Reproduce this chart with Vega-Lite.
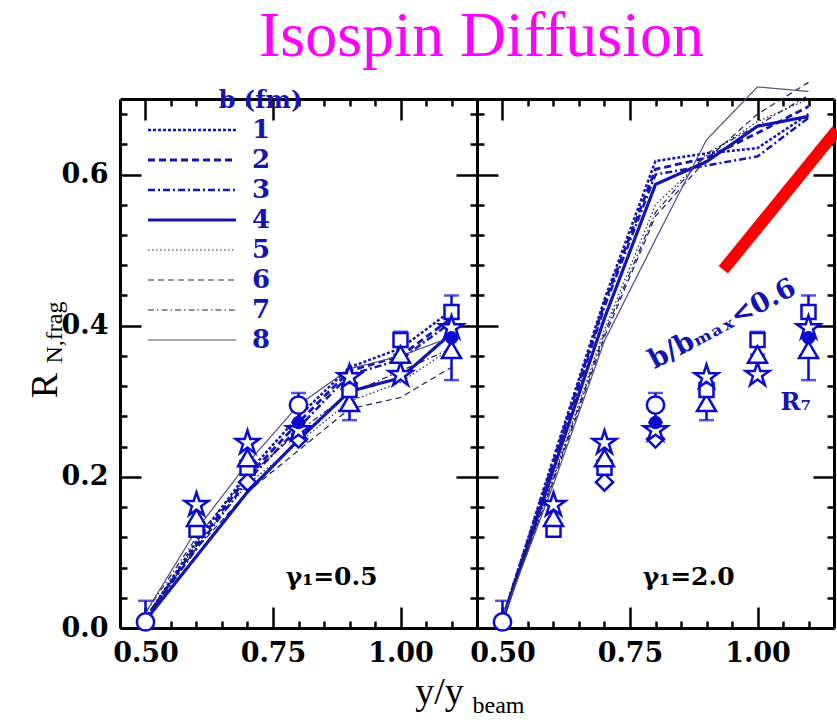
{
  "$schema": "https://vega.github.io/schema/vega-lite/v6.json",
  "autosize": {"type": "pad"},
  "padding": {"left": 26, "top": 4, "right": 0, "bottom": 0},
  "background": "white",
  "title": {"text": "Isospin Diffusion", "font": "Liberation Serif", "fontSize": 64, "fontWeight": "normal", "color": "#ff00ff", "anchor": "middle", "frame": "bounds", "baseline": "alphabetic", "offset": -40, "dx": 47},
  "config": {
    "view": {"stroke": null},
    "axis": {"domainColor": "black", "domainWidth": 3, "tickColor": "black", "tickWidth": 2.5, "grid": false, "labelFont": "DejaVu Serif", "labelFontWeight": "bold", "labelFontSize": 27, "labelColor": "black", "titleFont": "Liberation Serif", "titleFontWeight": "normal", "titleColor": "black", "labelFlush": false, "labelOverlap": false}
  },
  "datasets": {
    "sim": [
      {"g": "0.5", "b": 1, "x": 0.5, "y": 0.012}, {"g": "0.5", "b": 1, "x": 0.6, "y": 0.115}, {"g": "0.5", "b": 1, "x": 0.7, "y": 0.205}, {"g": "0.5", "b": 1, "x": 0.8, "y": 0.28}, {"g": "0.5", "b": 1, "x": 0.9, "y": 0.345}, {"g": "0.5", "b": 1, "x": 1.0, "y": 0.37}, {"g": "0.5", "b": 1, "x": 1.1, "y": 0.42},
      {"g": "0.5", "b": 2, "x": 0.5, "y": 0.012}, {"g": "0.5", "b": 2, "x": 0.6, "y": 0.11}, {"g": "0.5", "b": 2, "x": 0.7, "y": 0.2}, {"g": "0.5", "b": 2, "x": 0.8, "y": 0.272}, {"g": "0.5", "b": 2, "x": 0.9, "y": 0.34}, {"g": "0.5", "b": 2, "x": 1.0, "y": 0.36}, {"g": "0.5", "b": 2, "x": 1.1, "y": 0.41},
      {"g": "0.5", "b": 3, "x": 0.5, "y": 0.012}, {"g": "0.5", "b": 3, "x": 0.6, "y": 0.105}, {"g": "0.5", "b": 3, "x": 0.7, "y": 0.195}, {"g": "0.5", "b": 3, "x": 0.8, "y": 0.265}, {"g": "0.5", "b": 3, "x": 0.9, "y": 0.335}, {"g": "0.5", "b": 3, "x": 1.0, "y": 0.355}, {"g": "0.5", "b": 3, "x": 1.1, "y": 0.405},
      {"g": "0.5", "b": 4, "x": 0.5, "y": 0.01}, {"g": "0.5", "b": 4, "x": 0.6, "y": 0.095}, {"g": "0.5", "b": 4, "x": 0.7, "y": 0.18}, {"g": "0.5", "b": 4, "x": 0.8, "y": 0.249}, {"g": "0.5", "b": 4, "x": 0.9, "y": 0.313}, {"g": "0.5", "b": 4, "x": 1.0, "y": 0.331}, {"g": "0.5", "b": 4, "x": 1.1, "y": 0.39},
      {"g": "0.5", "b": 5, "x": 0.5, "y": 0.015}, {"g": "0.5", "b": 5, "x": 0.6, "y": 0.11}, {"g": "0.5", "b": 5, "x": 0.7, "y": 0.19}, {"g": "0.5", "b": 5, "x": 0.8, "y": 0.245}, {"g": "0.5", "b": 5, "x": 0.9, "y": 0.3}, {"g": "0.5", "b": 5, "x": 1.0, "y": 0.325}, {"g": "0.5", "b": 5, "x": 1.1, "y": 0.37},
      {"g": "0.5", "b": 6, "x": 0.5, "y": 0.015}, {"g": "0.5", "b": 6, "x": 0.6, "y": 0.105}, {"g": "0.5", "b": 6, "x": 0.7, "y": 0.18}, {"g": "0.5", "b": 6, "x": 0.8, "y": 0.235}, {"g": "0.5", "b": 6, "x": 0.9, "y": 0.29}, {"g": "0.5", "b": 6, "x": 1.0, "y": 0.305}, {"g": "0.5", "b": 6, "x": 1.1, "y": 0.345},
      {"g": "0.5", "b": 7, "x": 0.5, "y": 0.02}, {"g": "0.5", "b": 7, "x": 0.6, "y": 0.12}, {"g": "0.5", "b": 7, "x": 0.7, "y": 0.2}, {"g": "0.5", "b": 7, "x": 0.8, "y": 0.26}, {"g": "0.5", "b": 7, "x": 0.9, "y": 0.31}, {"g": "0.5", "b": 7, "x": 1.0, "y": 0.34}, {"g": "0.5", "b": 7, "x": 1.1, "y": 0.37},
      {"g": "0.5", "b": 8, "x": 0.5, "y": 0.02}, {"g": "0.5", "b": 8, "x": 0.6, "y": 0.13}, {"g": "0.5", "b": 8, "x": 0.7, "y": 0.218}, {"g": "0.5", "b": 8, "x": 0.8, "y": 0.295}, {"g": "0.5", "b": 8, "x": 0.9, "y": 0.343}, {"g": "0.5", "b": 8, "x": 1.0, "y": 0.36}, {"g": "0.5", "b": 8, "x": 1.1, "y": 0.385},
      {"g": "2.0", "b": 1, "x": 0.5, "y": 0.012}, {"g": "2.0", "b": 1, "x": 0.6, "y": 0.225}, {"g": "2.0", "b": 1, "x": 0.7, "y": 0.435}, {"g": "2.0", "b": 1, "x": 0.8, "y": 0.618}, {"g": "2.0", "b": 1, "x": 0.9, "y": 0.628}, {"g": "2.0", "b": 1, "x": 1.0, "y": 0.635}, {"g": "2.0", "b": 1, "x": 1.1, "y": 0.68},
      {"g": "2.0", "b": 2, "x": 0.5, "y": 0.012}, {"g": "2.0", "b": 2, "x": 0.6, "y": 0.22}, {"g": "2.0", "b": 2, "x": 0.7, "y": 0.43}, {"g": "2.0", "b": 2, "x": 0.8, "y": 0.607}, {"g": "2.0", "b": 2, "x": 0.9, "y": 0.622}, {"g": "2.0", "b": 2, "x": 1.0, "y": 0.655}, {"g": "2.0", "b": 2, "x": 1.1, "y": 0.69},
      {"g": "2.0", "b": 3, "x": 0.5, "y": 0.012}, {"g": "2.0", "b": 3, "x": 0.6, "y": 0.215}, {"g": "2.0", "b": 3, "x": 0.7, "y": 0.425}, {"g": "2.0", "b": 3, "x": 0.8, "y": 0.6}, {"g": "2.0", "b": 3, "x": 0.9, "y": 0.612}, {"g": "2.0", "b": 3, "x": 1.0, "y": 0.624}, {"g": "2.0", "b": 3, "x": 1.1, "y": 0.675},
      {"g": "2.0", "b": 4, "x": 0.5, "y": 0.01}, {"g": "2.0", "b": 4, "x": 0.6, "y": 0.21}, {"g": "2.0", "b": 4, "x": 0.7, "y": 0.41}, {"g": "2.0", "b": 4, "x": 0.8, "y": 0.587}, {"g": "2.0", "b": 4, "x": 0.9, "y": 0.617}, {"g": "2.0", "b": 4, "x": 1.0, "y": 0.664}, {"g": "2.0", "b": 4, "x": 1.1, "y": 0.677},
      {"g": "2.0", "b": 5, "x": 0.5, "y": 0.012}, {"g": "2.0", "b": 5, "x": 0.6, "y": 0.2}, {"g": "2.0", "b": 5, "x": 0.7, "y": 0.395}, {"g": "2.0", "b": 5, "x": 0.8, "y": 0.56}, {"g": "2.0", "b": 5, "x": 0.9, "y": 0.625}, {"g": "2.0", "b": 5, "x": 1.0, "y": 0.67}, {"g": "2.0", "b": 5, "x": 1.1, "y": 0.7},
      {"g": "2.0", "b": 6, "x": 0.5, "y": 0.012}, {"g": "2.0", "b": 6, "x": 0.6, "y": 0.195}, {"g": "2.0", "b": 6, "x": 0.7, "y": 0.385}, {"g": "2.0", "b": 6, "x": 0.8, "y": 0.545}, {"g": "2.0", "b": 6, "x": 0.9, "y": 0.62}, {"g": "2.0", "b": 6, "x": 1.0, "y": 0.68}, {"g": "2.0", "b": 6, "x": 1.1, "y": 0.722},
      {"g": "2.0", "b": 7, "x": 0.5, "y": 0.012}, {"g": "2.0", "b": 7, "x": 0.6, "y": 0.198}, {"g": "2.0", "b": 7, "x": 0.7, "y": 0.39}, {"g": "2.0", "b": 7, "x": 0.8, "y": 0.55}, {"g": "2.0", "b": 7, "x": 0.9, "y": 0.628}, {"g": "2.0", "b": 7, "x": 1.0, "y": 0.665}, {"g": "2.0", "b": 7, "x": 1.1, "y": 0.705},
      {"g": "2.0", "b": 8, "x": 0.5, "y": 0.012}, {"g": "2.0", "b": 8, "x": 0.6, "y": 0.19}, {"g": "2.0", "b": 8, "x": 0.7, "y": 0.38}, {"g": "2.0", "b": 8, "x": 0.8, "y": 0.514}, {"g": "2.0", "b": 8, "x": 0.9, "y": 0.646}, {"g": "2.0", "b": 8, "x": 1.0, "y": 0.716}, {"g": "2.0", "b": 8, "x": 1.1, "y": 0.71}
    ],
    "exp": [
      {"x": 0.5, "m": "circle", "y": 0.008},
      {"x": 0.6, "m": "square", "y": 0.13}, {"x": 0.6, "m": "triangle", "y": 0.146}, {"x": 0.6, "m": "star", "y": 0.163},
      {"x": 0.7, "m": "diamond", "y": 0.193}, {"x": 0.7, "m": "square", "y": 0.212}, {"x": 0.7, "m": "triangle", "y": 0.225}, {"x": 0.7, "m": "star", "y": 0.245},
      {"x": 0.8, "m": "diamond", "y": 0.25}, {"x": 0.8, "m": "star", "y": 0.262}, {"x": 0.8, "m": "circle", "y": 0.295}, {"x": 0.8, "m": "dot", "y": 0.272},
      {"x": 0.9, "m": "triangle", "y": 0.298}, {"x": 0.9, "m": "square", "y": 0.315}, {"x": 0.9, "m": "star", "y": 0.332},
      {"x": 1.0, "m": "star", "y": 0.335}, {"x": 1.0, "m": "square", "y": 0.381}, {"x": 1.0, "m": "triangle", "y": 0.362},
      {"x": 1.1, "m": "triangle", "y": 0.368}, {"x": 1.1, "m": "square", "y": 0.418}, {"x": 1.1, "m": "star", "y": 0.397}, {"x": 1.1, "m": "dot", "y": 0.384}
    ],
    "err": [
      {"x": 0.5, "lo": 0.0, "hi": 0.036},
      {"x": 0.8, "lo": 0.272, "hi": 0.311},
      {"x": 0.9, "lo": 0.275, "hi": 0.332},
      {"x": 1.0, "lo": 0.362, "hi": 0.392},
      {"x": 1.1, "lo": 0.328, "hi": 0.44}
    ],
    "notes": [
      {"g": "0.5", "k": "gamma", "t": "γ₁=0.5"},
      {"g": "2.0", "k": "gamma", "t": "γ₁=2.0"},
      {"g": "0.5", "k": "bfm", "t": "b (fm)"},
      {"g": "2.0", "k": "ratio", "t": "b/bₘₐₓ<0.6"},
      {"g": "2.0", "k": "r7", "t": "R₇"}
    ]
  },
  "spacing": 0,
  "bounds": "flush",
  "hconcat": [
    {
      "width": 357,
      "height": 529,
      "resolve": {"axis": {"x": "independent", "y": "independent"}},
      "layer": [
        {
          "data": {"name": "sim"},
          "transform": [{"filter": "datum.g == '0.5'"}],
          "mark": {"type": "line"},
          "encoding": {
            "x": {"field": "x", "type": "quantitative", "scale": {"domain": [0.45, 1.15], "nice": false, "zero": false},
                  "axis": {"orient": "bottom", "values": [0.5, 0.75, 1.0], "format": ".2f", "tickSize": -21, "labelPadding": 33, "title": "y/y", "titleFontSize": 38, "titleX": 319, "titleY": 75, "titleBaseline": "alphabetic", "titleAlign": "center"}},
            "y": {"field": "y", "type": "quantitative", "scale": {"domain": [0, 0.7], "nice": false, "zero": false},
                  "axis": {"orient": "left", "values": [0, 0.2, 0.4, 0.6], "format": ".1f", "tickSize": -21, "labelPadding": 33, "title": "R", "titleFontSize": 38, "titleAngle": 270, "titleX": -64, "titleY": 286, "titleAlign": "center", "titleBaseline": "alphabetic"}},
            "color": {"field": "b", "type": "ordinal", "scale": {"domain": [1, 2, 3, 4, 5, 6, 7, 8], "range": ["#1414b4", "#1414b4", "#1414b4", "#1414b4", "#1c1c60", "#1c1c60", "#1c1c60", "#4c4c88"]},
                      "legend": {"orient": "none", "legendX": 25, "legendY": 18, "title": null, "symbolType": "M-4.4,0H4.4", "symbolSize": 400, "symbolOffset": 34, "labelFont": "DejaVu Serif", "labelFontWeight": "bold", "labelFontSize": 26, "labelColor": "#1414b4", "labelOffset": 47, "rowPadding": 4, "padding": 0}},
            "strokeDash": {"field": "b", "type": "ordinal", "scale": {"domain": [1, 2, 3, 4, 5, 6, 7, 8], "range": [[3, 2], [7, 4], [7, 3, 2, 3], [1, 0], [1.5, 2.5], [6, 4], [6, 3, 1.5, 3], [1, 0]]},
                      "legend": {"orient": "none", "legendX": 25, "legendY": 18, "title": null, "symbolType": "M-4.4,0H4.4", "symbolSize": 400, "symbolOffset": 34, "labelFont": "DejaVu Serif", "labelFontWeight": "bold", "labelFontSize": 26, "labelColor": "#1414b4", "labelOffset": 47, "rowPadding": 4, "padding": 0}},
            "strokeWidth": {"field": "b", "type": "ordinal", "scale": {"type": "ordinal", "domain": [1, 2, 3, 4, 5, 6, 7, 8], "range": [2.5, 2.8, 2.5, 3.2, 1.2, 1.2, 1.2, 1.2]},
                      "legend": {"orient": "none", "legendX": 25, "legendY": 18, "title": null, "symbolType": "M-4.4,0H4.4", "symbolSize": 400, "symbolOffset": 34, "labelFont": "DejaVu Serif", "labelFontWeight": "bold", "labelFontSize": 26, "labelColor": "#1414b4", "labelOffset": 47, "rowPadding": 4, "padding": 0}}
          }
        },
        {
          "data": {"name": "err"},
          "mark": {"type": "rule", "color": "#0b0bd0", "strokeWidth": 2.5},
          "encoding": {
            "x": {"field": "x", "type": "quantitative", "scale": {"domain": [0.45, 1.15], "nice": false, "zero": false},
                  "axis": {"orient": "top", "values": [0.5, 0.75, 1.0], "tickSize": -21, "labels": false, "title": null}},
            "y": {"field": "lo", "type": "quantitative", "scale": {"domain": [0, 0.7], "nice": false, "zero": false},
                  "axis": {"orient": "right", "values": [0, 0.2, 0.4, 0.6], "tickSize": -21, "labels": false, "title": null}},
            "y2": {"field": "hi"}
          }
        },
        {
          "data": {"name": "err"},
          "mark": {"type": "tick", "orient": "horizontal", "size": 15, "thickness": 2.5, "color": "#0b0bd0"},
          "encoding": {
            "x": {"field": "x", "type": "quantitative", "scale": {"domain": [0.45, 1.15], "nice": false, "zero": false},
                  "axis": {"orient": "bottom", "values": [0.55, 0.6, 0.65, 0.7, 0.8, 0.85, 0.9, 0.95, 1.05, 1.1], "tickSize": -7, "labels": false, "domain": false, "title": "beam", "titleFontSize": 24, "titleX": 378, "titleY": 84, "titleBaseline": "alphabetic", "titleAlign": "center"}},
            "y": {"field": "hi", "type": "quantitative", "scale": {"domain": [0, 0.7], "nice": false, "zero": false},
                  "axis": {"orient": "left", "values": [0.04, 0.08, 0.12, 0.16, 0.24, 0.28, 0.32, 0.36, 0.44, 0.48, 0.52, 0.56, 0.64, 0.68], "tickSize": -7, "labels": false, "domain": false, "title": "N,frag", "titleFontSize": 24, "titleAngle": 270, "titleX": -59, "titleY": 233, "titleAlign": "center", "titleBaseline": "alphabetic"}}
          }
        },
        {
          "data": {"name": "err"},
          "transform": [{"filter": "datum.lo > 0"}],
          "mark": {"type": "tick", "orient": "horizontal", "size": 15, "thickness": 2.5, "color": "#0b0bd0"},
          "encoding": {
            "x": {"field": "x", "type": "quantitative", "scale": {"domain": [0.45, 1.15], "nice": false, "zero": false},
                  "axis": {"orient": "top", "values": [0.55, 0.6, 0.65, 0.7, 0.8, 0.85, 0.9, 0.95, 1.05, 1.1], "tickSize": -7, "labels": false, "domain": false, "title": null}},
            "y": {"field": "lo", "type": "quantitative", "scale": {"domain": [0, 0.7], "nice": false, "zero": false},
                  "axis": {"orient": "right", "values": [0.04, 0.08, 0.12, 0.16, 0.24, 0.28, 0.32, 0.36, 0.44, 0.48, 0.52, 0.56, 0.64, 0.68], "tickSize": -7, "labels": false, "domain": false, "title": null}}
          }
        },
        {
          "data": {"name": "exp"},
          "mark": {"type": "point", "filled": true, "stroke": "#0b0bd0", "strokeWidth": 2.5, "opacity": 1},
          "encoding": {
            "x": {"field": "x", "type": "quantitative", "axis": null},
            "y": {"field": "y", "type": "quantitative", "axis": null},
            "shape": {"field": "m", "type": "nominal", "legend": null, "scale": {"domain": ["star", "triangle", "square", "diamond", "circle", "dot"], "range": ["M0,-1L0.2245,-0.309L0.9511,-0.309L0.3633,0.118L0.5878,0.809L0,0.382L-0.5878,0.809L-0.3633,0.118L-0.9511,-0.309L-0.2245,-0.309Z", "triangle-up", "square", "diamond", "circle", "circle"]}},
            "fill": {"field": "m", "type": "nominal", "legend": null, "scale": {"domain": ["star", "triangle", "square", "diamond", "circle", "dot"], "range": ["white", "white", "white", "white", "white", "#0b0bd0"]}},
            "size": {"field": "m", "type": "nominal", "legend": null, "scale": {"type": "ordinal", "domain": ["star", "triangle", "square", "diamond", "circle", "dot"], "range": [620, 360, 196, 289, 300, 121]}}
          }
        },
        {
          "data": {"name": "notes"},
          "transform": [{"filter": "datum.k == 'gamma' && datum.g == '0.5'"}],
          "mark": {"type": "text", "font": "DejaVu Serif", "fontSize": 25, "fontWeight": "bold", "color": "black"},
          "encoding": {
            "x": {"datum": 0.865, "type": "quantitative", "axis": null},
            "y": {"datum": 0.068, "type": "quantitative", "axis": null},
            "text": {"field": "t"}
          }
        },
        {
          "data": {"name": "notes"},
          "transform": [{"filter": "datum.k == 'bfm'"}],
          "mark": {"type": "text", "font": "DejaVu Serif", "fontSize": 24, "fontWeight": "bold", "color": "#1414b4"},
          "encoding": {
            "x": {"datum": 0.7255, "type": "quantitative", "axis": null},
            "y": {"datum": 0.697, "type": "quantitative", "axis": null},
            "text": {"field": "t"}
          }
        }
      ]
    },
    {
      "width": 357,
      "height": 529,
      "resolve": {"axis": {"x": "independent", "y": "independent"}},
      "layer": [
        {
          "data": {"name": "sim"},
          "transform": [{"filter": "datum.g == '2.0'"}],
          "mark": {"type": "line"},
          "encoding": {
            "x": {"field": "x", "type": "quantitative", "scale": {"domain": [0.45, 1.15], "nice": false, "zero": false},
                  "axis": {"orient": "bottom", "values": [0.5, 0.75, 1.0], "format": ".2f", "tickSize": -21, "labelPadding": 33, "title": null}},
            "y": {"field": "y", "type": "quantitative", "scale": {"domain": [0, 0.7], "nice": false, "zero": false},
                  "axis": {"orient": "left", "values": [0, 0.2, 0.4, 0.6], "tickSize": -21, "labels": false, "title": null}},
            "color": {"field": "b", "type": "ordinal", "legend": null, "scale": {"domain": [1, 2, 3, 4, 5, 6, 7, 8], "range": ["#1414b4", "#1414b4", "#1414b4", "#1414b4", "#1c1c60", "#1c1c60", "#1c1c60", "#4c4c88"]}},
            "strokeDash": {"field": "b", "type": "ordinal", "legend": null, "scale": {"domain": [1, 2, 3, 4, 5, 6, 7, 8], "range": [[3, 2], [7, 4], [7, 3, 2, 3], [1, 0], [1.5, 2.5], [6, 4], [6, 3, 1.5, 3], [1, 0]]}},
            "strokeWidth": {"field": "b", "type": "ordinal", "legend": null, "scale": {"type": "ordinal", "domain": [1, 2, 3, 4, 5, 6, 7, 8], "range": [2.5, 2.8, 2.5, 3.2, 1.2, 1.2, 1.2, 1.2]}}
          }
        },
        {
          "data": {"name": "err"},
          "mark": {"type": "rule", "color": "#0b0bd0", "strokeWidth": 2.5},
          "encoding": {
            "x": {"field": "x", "type": "quantitative", "scale": {"domain": [0.45, 1.15], "nice": false, "zero": false},
                  "axis": {"orient": "top", "values": [0.5, 0.75, 1.0], "tickSize": -21, "labels": false, "title": null}},
            "y": {"field": "lo", "type": "quantitative", "scale": {"domain": [0, 0.7], "nice": false, "zero": false},
                  "axis": {"orient": "right", "values": [0, 0.2, 0.4, 0.6], "tickSize": -21, "labels": false, "title": null}},
            "y2": {"field": "hi"}
          }
        },
        {
          "data": {"name": "err"},
          "mark": {"type": "tick", "orient": "horizontal", "size": 15, "thickness": 2.5, "color": "#0b0bd0"},
          "encoding": {
            "x": {"field": "x", "type": "quantitative", "scale": {"domain": [0.45, 1.15], "nice": false, "zero": false},
                  "axis": {"orient": "bottom", "values": [0.55, 0.6, 0.65, 0.7, 0.8, 0.85, 0.9, 0.95, 1.05, 1.1], "tickSize": -7, "labels": false, "domain": false, "title": null}},
            "y": {"field": "hi", "type": "quantitative", "scale": {"domain": [0, 0.7], "nice": false, "zero": false},
                  "axis": {"orient": "left", "values": [0.04, 0.08, 0.12, 0.16, 0.24, 0.28, 0.32, 0.36, 0.44, 0.48, 0.52, 0.56, 0.64, 0.68], "tickSize": -7, "labels": false, "domain": false, "title": null}}
          }
        },
        {
          "data": {"name": "err"},
          "transform": [{"filter": "datum.lo > 0"}],
          "mark": {"type": "tick", "orient": "horizontal", "size": 15, "thickness": 2.5, "color": "#0b0bd0"},
          "encoding": {
            "x": {"field": "x", "type": "quantitative", "scale": {"domain": [0.45, 1.15], "nice": false, "zero": false},
                  "axis": {"orient": "top", "values": [0.55, 0.6, 0.65, 0.7, 0.8, 0.85, 0.9, 0.95, 1.05, 1.1], "tickSize": -7, "labels": false, "domain": false, "title": null}},
            "y": {"field": "lo", "type": "quantitative", "scale": {"domain": [0, 0.7], "nice": false, "zero": false},
                  "axis": {"orient": "right", "values": [0.04, 0.08, 0.12, 0.16, 0.24, 0.28, 0.32, 0.36, 0.44, 0.48, 0.52, 0.56, 0.64, 0.68], "tickSize": -7, "labels": false, "domain": false, "title": null}}
          }
        },
        {
          "data": {"name": "exp"},
          "mark": {"type": "point", "filled": true, "stroke": "#0b0bd0", "strokeWidth": 2.5, "opacity": 1},
          "encoding": {
            "x": {"field": "x", "type": "quantitative", "axis": null},
            "y": {"field": "y", "type": "quantitative", "axis": null},
            "shape": {"field": "m", "type": "nominal", "legend": null, "scale": {"domain": ["star", "triangle", "square", "diamond", "circle", "dot"], "range": ["M0,-1L0.2245,-0.309L0.9511,-0.309L0.3633,0.118L0.5878,0.809L0,0.382L-0.5878,0.809L-0.3633,0.118L-0.9511,-0.309L-0.2245,-0.309Z", "triangle-up", "square", "diamond", "circle", "circle"]}},
            "fill": {"field": "m", "type": "nominal", "legend": null, "scale": {"domain": ["star", "triangle", "square", "diamond", "circle", "dot"], "range": ["white", "white", "white", "white", "white", "#0b0bd0"]}},
            "size": {"field": "m", "type": "nominal", "legend": null, "scale": {"type": "ordinal", "domain": ["star", "triangle", "square", "diamond", "circle", "dot"], "range": [620, 360, 196, 289, 300, 121]}}
          }
        },
        {
          "data": {"name": "notes"},
          "transform": [{"filter": "datum.k == 'gamma' && datum.g == '2.0'"}],
          "mark": {"type": "text", "font": "DejaVu Serif", "fontSize": 25, "fontWeight": "bold", "color": "black"},
          "encoding": {
            "x": {"datum": 0.865, "type": "quantitative", "axis": null},
            "y": {"datum": 0.068, "type": "quantitative", "axis": null},
            "text": {"field": "t"}
          }
        },
        {
          "data": {"name": "notes"},
          "transform": [{"filter": "datum.k == 'ratio'"}],
          "mark": {"type": "text", "font": "DejaVu Serif", "fontSize": 27, "fontWeight": "bold", "color": "#1414b4", "angle": 332},
          "encoding": {
            "x": {"datum": 0.931, "type": "quantitative", "axis": null},
            "y": {"datum": 0.402, "type": "quantitative", "axis": null},
            "text": {"field": "t"}
          }
        },
        {
          "data": {"name": "notes"},
          "transform": [{"filter": "datum.k == 'r7'"}],
          "mark": {"type": "text", "font": "DejaVu Serif", "fontSize": 24, "fontWeight": "bold", "color": "#1414b4"},
          "encoding": {
            "x": {"datum": 1.075, "type": "quantitative", "axis": null},
            "y": {"datum": 0.298, "type": "quantitative", "axis": null},
            "text": {"field": "t"}
          }
        },
        {
          "data": {"values": [{}]},
          "mark": {"type": "rule", "color": "#ff0000", "strokeWidth": 12, "strokeCap": "butt"},
          "encoding": {
            "x": {"datum": 0.933, "type": "quantitative", "axis": null},
            "y": {"datum": 0.474, "type": "quantitative", "axis": null},
            "x2": {"datum": 1.156},
            "y2": {"datum": 0.659}
          }
        }
      ]
    }
  ]
}
